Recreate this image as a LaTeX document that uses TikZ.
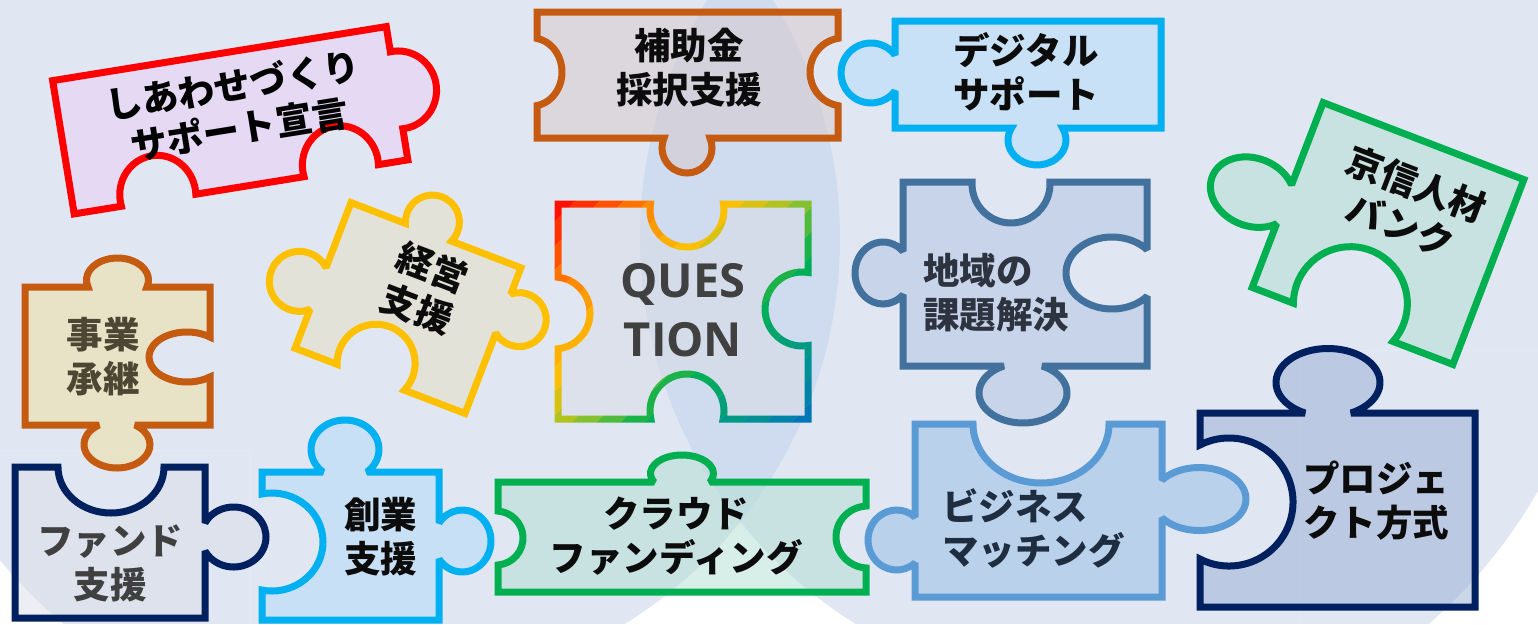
\documentclass[tikz,border=0pt]{standalone}
\usepackage{fontspec}
\newfontfamily\jp{Noto Sans CJK JP}
\newfontfamily\qfont{Open Sans}
\definecolor{bgc}{RGB}{224,231,243}
\definecolor{lensc}{RGB}{207,219,238}
\definecolor{cRed}{RGB}{255,0,0}
\definecolor{cBrown}{RGB}{197,90,17}
\definecolor{cCyan}{RGB}{0,176,240}
\definecolor{cGreen}{RGB}{0,176,80}
\definecolor{cYellow}{RGB}{255,192,0}
\definecolor{cSteel}{RGB}{65,113,156}
\definecolor{cNavy}{RGB}{0,32,96}
\definecolor{cBlue}{RGB}{91,155,213}
\definecolor{fA}{RGB}{234,205,245}
\definecolor{fB}{RGB}{216,201,201}
\definecolor{fC}{RGB}{178,221,249}
\definecolor{fD}{RGB}{178,223,211}
\definecolor{fE}{RGB}{228,223,193}
\definecolor{fF}{RGB}{220,221,229}
\definecolor{fG}{RGB}{176,195,227}
\definecolor{fH}{RGB}{240,223,157}
\definecolor{fI}{RGB}{220,223,233}
\definecolor{fJ}{RGB}{178,219,247}
\definecolor{fK}{RGB}{178,223,211}
\definecolor{fL}{RGB}{150,189,229}
\definecolor{fM}{RGB}{152,175,211}
\definecolor{tDark}{RGB}{12,12,12}
\definecolor{tGray}{RGB}{64,64,64}
\definecolor{tOlive}{RGB}{77,70,50}
\definecolor{tSteel}{RGB}{45,52,64}
\definecolor{tNavy}{RGB}{31,45,64}
\tikzset{
 kT/.style args={#1/#2/#3/#4/#5}{insert path={-- ({#1-#4*sqrt(1-(#3/#5)*(#3/#5))},#2) arc[start angle={90+acos(#3/#5)}, end angle={450-acos(#3/#5)}, x radius=#4, y radius=#5]}},
 bT/.style args={#1/#2/#3/#4/#5}{insert path={-- ({#1-#4*sqrt(1-(#3/#5)*(#3/#5))},#2) arc[start angle={270-acos(#3/#5)}, end angle={acos(#3/#5)-90}, x radius=#4, y radius=#5]}},
 kR/.style args={#1/#2/#3/#4/#5}{insert path={-- (#2,{#1-#4*sqrt(1-(#3/#5)*(#3/#5))}) arc[start angle={acos(#3/#5)-180}, end angle={180-acos(#3/#5)}, x radius=#5, y radius=#4]}},
 bR/.style args={#1/#2/#3/#4/#5}{insert path={-- (#2,{#1-#4*sqrt(1-(#3/#5)*(#3/#5))}) arc[start angle={-acos(#3/#5)}, end angle={acos(#3/#5)-360}, x radius=#5, y radius=#4]}},
 kB/.style args={#1/#2/#3/#4/#5}{insert path={-- ({#1+#4*sqrt(1-(#3/#5)*(#3/#5))},#2) arc[start angle={acos(#3/#5)-90}, end angle={270-acos(#3/#5)}, x radius=#4, y radius=#5]}},
 bB/.style args={#1/#2/#3/#4/#5}{insert path={-- ({#1+#4*sqrt(1-(#3/#5)*(#3/#5))},#2) arc[start angle={90-acos(#3/#5)}, end angle={acos(#3/#5)-270}, x radius=#4, y radius=#5]}},
 kL/.style args={#1/#2/#3/#4/#5}{insert path={-- (#2,{#1+#4*sqrt(1-(#3/#5)*(#3/#5))}) arc[start angle={acos(#3/#5)}, end angle={360-acos(#3/#5)}, x radius=#5, y radius=#4]}},
 bL/.style args={#1/#2/#3/#4/#5}{insert path={-- (#2,{#1+#4*sqrt(1-(#3/#5)*(#3/#5))}) arc[start angle={180-acos(#3/#5)}, end angle={acos(#3/#5)-180}, x radius=#5, y radius=#4]}},
 pc/.style={line width=7pt, line join=miter, miter limit=2, fill opacity=0.5},
 lbl/.style={font=\jp\bfseries\fontsize{36.5}{44}\selectfont, align=center, inner sep=0pt},
}
\def\qpath{(558,204) [bT=687/204/6/37/37] -- (808,204) [bR=309/808/6/37/37] -- (808,419) [bB=687/419/8/37/37] -- (558,419) [bL=313/558/-4/36/36] -- cycle}
\begin{document}
\begin{tikzpicture}[x=1pt,y=-1pt]
\useasboundingbox (0,0) rectangle (1538,624);
% background
\fill[bgc] (0,0) rectangle (1538,624);
\begin{scope}
  \clip (386,238) circle (454);
  \fill[lensc] (1094,238) circle (454);
\end{scope}
\fill[white] (740,522.3) arc[start angle=38.8, end angle=65.2, radius=454] -- (904,650) arc[start angle=114.8, end angle=141.2, radius=454] -- cycle;
\begin{scope}
  \clip (-50,450) rectangle (250,700);
  \fill[white, even odd rule] (-50,450) rectangle (250,700) (386,238) circle (503);
\end{scope}
\begin{scope}
  \clip (1300,350) rectangle (1600,700);
  \fill[white, even odd rule] (1300,350) rectangle (1600,700) (1094,238) circle (511);
\end{scope}

% A: shiawase
\begin{scope}[shift={(230.25,120.25)}, rotate=9.2]
  \draw[pc, draw=cRed, fill=fA] (-169,-67.5) -- (169,-67.5) [kR=-3/169/2/39/38] -- (169,67.5) [bB=101.5/67.5/5/38/40] [bB=-83.5/67.5/5/38/40] -- (-169,67.5) -- cycle;
  \node[lbl, text=black, transform shape] (tA) at (8,-12) {しあわせづくり\\サポート宣言};
\end{scope}

% B: hojokin
\draw[pc, draw=cBrown, fill=fB] (537,12) -- (838,12) [bR=72/838/-5/34/33] -- (838,138) [kB=687/138/10/25/25] -- (537,138) [bL=72/537/-5/34/30] -- cycle;
\node[lbl, text=tDark] (tB) at (689,68) {補助金\\採択支援};

% C: digital
\draw[pc, draw=cCyan, fill=fC] (895,21) -- (1161,21) -- (1161,128) [kB=1037/128/12/29/25] -- (895,128) [kL=73/895/24/30/30] -- cycle;
\node[lbl, text=tDark] (tC) at (1026,71.5) {デジタル\\サポート};

% D: kyoshin
\begin{scope}[shift={(1388,233.5)}, rotate=-21]
  \draw[pc, draw=cGreen, fill=fD] (-107.5,-99) -- (107.5,-99) -- (107.5,99) [bB=-10/99/20/57/57] -- (-107.5,99) [kL=10/-107.5/34/34/43] -- cycle;
  \node[lbl, text=tDark, transform shape] (tD) at (9,-34) {京信人材\\バンク};
\end{scope}

% E: keiei
\begin{scope}[shift={(408,308)}, rotate=-21]
  \draw[pc, draw=cYellow, fill=fE] (-91,-78) [kT=-8/-78/11/27/27] -- (91,-78) [kR=-29/91/17/27/27] -- (91,78) [bB=-10/78/15/39/39] -- (-91,78) [kL=14/-91/20/30/30] -- cycle;
  \node[lbl, text=tDark, transform shape] (tE) at (8.5,-25) {経営\\支援};
\end{scope}

% F: QUESTION
\fill[fF, fill opacity=0.5] \qpath;
\foreach \i/\c in {0/{255,16,0},1/{255,49,0},2/{255,81,0},3/{255,114,0},4/{255,139,0},5/{255,157,0},6/{255,176,0},7/{251,192,2},8/{215,194,17},9/{178,195,32},10/{133,193,47},11/{80,186,60},12/{27,179,73},13/{0,173,88},14/{0,166,103},15/{0,160,118},16/{0,153,133},17/{0,144,149},18/{0,131,166},19/{0,118,183}}{
  \pgfmathsetmacro\slo{\i==0 ? 600 : 752+\i*24.25}
  \pgfmathsetmacro\shi{\i==19 ? 1400 : 752+(\i+1)*24.25}
  \edef\tmpdef{\noexpand\definecolor{qc}{RGB}{\c}}\tmpdef
  \begin{scope}
    \clip ({\slo+300},-300) -- ({\shi+300},-300) -- ({\shi-1000},1000) -- ({\slo-1000},1000) -- cycle;
    \draw[qc, line width=7pt, line join=miter, miter limit=2] \qpath;
  \end{scope}
}
\node[font=\qfont\bfseries\fontsize{47}{59}\selectfont, align=center, inner sep=0pt, text=tGray] (tF) at (683,310) {QUES\\TION};

% G: chiiki
\draw[pc, draw=cSteel, fill=fG] (903,182) [bT=1011/182/2/39/39] -- (1147,182) [bR=273/1147/35/36/46] -- (1147,366) [kB=1023/366/27/44/30] -- (903,366) [kL=273/903/20/31/28] -- cycle;
\node[lbl, align=left, anchor=west, text=tSteel] (tG) at (923,292.5) {地域の\\課題解決};

% H: jigyo shokei
\draw[pc, draw=cBrown, fill=fH] (25,287) [kT=117.5/287/7/31/22] -- (210,287) [bR=357/210/23/25/38] -- (210,425) [kB=117/425/19.6/33/23.4] -- (25,425) -- cycle;
\node[lbl, text=tOlive] (tH) at (103,357) {事業\\承継};

% I: fund
\draw[pc, draw=cNavy, fill=fI] (15,467) [bT=111/467/0/53/46] -- (205,467) [kR=537/205/28.6/30/32.4] -- (205,618) -- (15,618) -- cycle;
\node[lbl, text=tGray] (tI) at (110,563) {ファンド\\支援};

% J: sogyo
\draw[pc, draw=cCyan, fill=fJ] (262,472) [kT=345/472/22.5/34/29.5] -- (439,472) [kR=541/439/23.3/31/28.7] -- (439,620) -- (262,620) [bL=542/262/10/49/51] -- cycle;
\node[lbl, text=tDark] (tJ) at (380.5,536.5) {創業\\支援};

% K: crowd
\draw[pc, draw=cGreen, fill=fK] (498,482) [kT=682/482/8.5/31.5/18.5] -- (866,482) [bR=537/866/-2/31/32] -- (866,592) -- (498,592) [bL=538/498/-2/27/27] -- cycle;
\node[lbl, text=tDark] (tK) at (676,536) {クラウド\\ファンディング};

% L: business
\draw[pc, draw=cBlue, fill=fL] (915,424) [bT=1041/424/0/68/59] -- (1162,424) [kR=499/1162/37.3/31.5/46.7] -- (1162,597) -- (915,597) [kL=540/915/18.4/30/28.6] -- cycle;
\node[lbl, align=left, anchor=west, text=tNavy] (tL) at (942,528) {ビジネス\\マッチング};

% M: project
\draw[pc, draw=cNavy, fill=fM] (1200,413) [kT=1328/413/30.5/52/34] -- (1475,413) -- (1475,607) -- (1200,607) [bL=502/1200/29/64/64] -- cycle;
\node[lbl, align=left, anchor=west, text=tDark] (tM) at (1303,501) {プロジェ\\クト方式};
\end{tikzpicture}
\end{document}
